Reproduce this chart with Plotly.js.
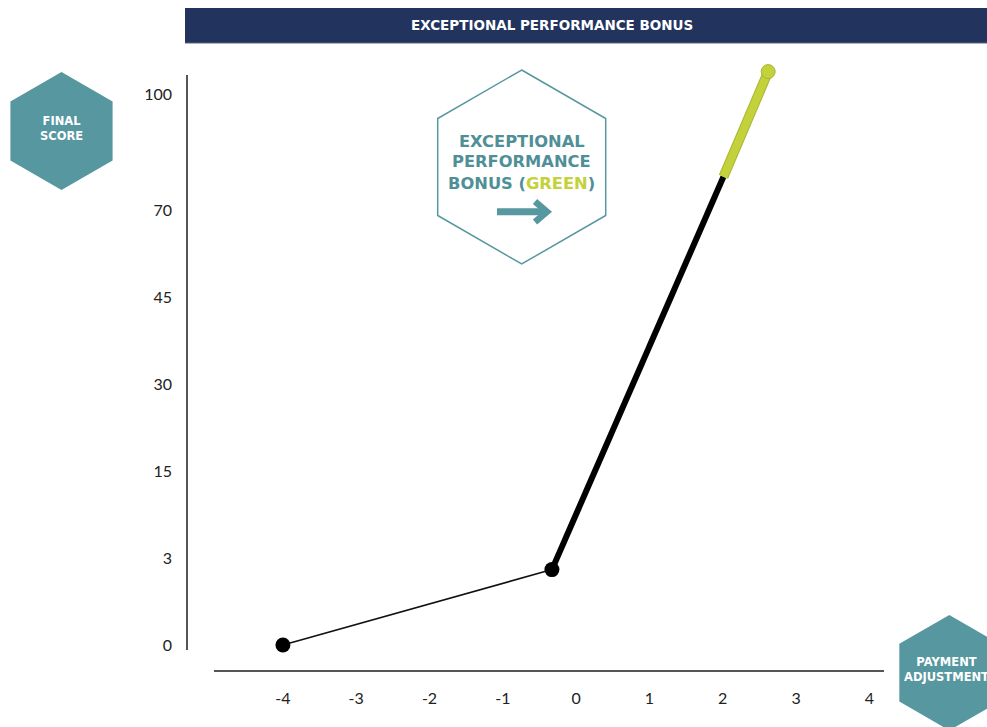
<!DOCTYPE html>
<html>
<head>
<meta charset="utf-8">
<script src="https://cdn.plot.ly/plotly-3.0.1.min.js"></script>
<style>html,body{margin:0;padding:0;background:#fff;}#chart{width:987px;height:727px;}</style>
</head>
<body>
<div id="chart"></div>
<script>
// ---- data ----
const xTickVals = [-4, -3, -2, -1, 0, 1, 2, 3, 4];
const yTickScores = [0, 3, 15, 30, 45, 70, 100];
const yTickLabels = ['0', '3', '15', '30', '45', '70', '100'];
const yTickSlots = [0, 1, 2, 3, 4, 5, 6.333];   // non-linear axis scale (even spacing, wider top step)

const baseX = [-4, -0.33];
const baseY = [0, 2.6];
const coreX = [-0.33, 2.01];
const coreY = [2.6, 78.6];
const bonusX = [2.01, 2.62];
const bonusY = [78.6, 105.8];

// piecewise-linear score -> axis-slot scale
function yScale(v) {
  const s = yTickScores, p = yTickSlots;
  let i = 0;
  while (i < s.length - 2 && v > s[i + 1]) i++;
  return p[i] + (v - s[i]) / (s[i + 1] - s[i]) * (p[i + 1] - p[i]);
}
const mapY = arr => arr.map(yScale);

// ---- layout geometry (pixels) ----
const W = 987, H = 727;
const M = {l: 187, r: 103, t: 50, b: 56};
const PW = W - M.l - M.r, PH = H - M.t - M.b;
const X = px => (px - M.l) / PW;
const Y = py => (H - M.b - py) / PH;

const TEAL = '#57979f';
const TEAL_TXT = '#4f8f97';
const GREEN = '#c3d13b';
const NAVY = '#22335e';
const FONT = 'Lato, "Open Sans", sans-serif';
const BOLD = '"DejaVu Sans", Lato, sans-serif';

function hexPath(cx, cy, R) {
  const pts = [];
  for (let k = 0; k < 6; k++) {
    const a = (-90 + 60 * k) * Math.PI / 180;
    pts.push([cx + R * Math.cos(a), cy + R * Math.sin(a)]);
  }
  return 'M' + pts.map(p => X(p[0]).toFixed(5) + ',' + Y(p[1]).toFixed(5)).join(' L') + ' Z';
}
function pPath(list) {
  return 'M' + list.map(p => X(p[0]).toFixed(5) + ',' + Y(p[1]).toFixed(5)).join(' L');
}

const traces = [
  {x: baseX, y: mapY(baseY), mode: 'lines', line: {color: '#111', width: 1.6}, hoverinfo: 'skip'},
  {x: coreX, y: mapY(coreY), mode: 'lines', line: {color: '#000', width: 6}, hoverinfo: 'skip'},
  {x: bonusX, y: mapY(bonusY), mode: 'lines', line: {color: '#a9b533', width: 10}, hoverinfo: 'skip'},
  {x: bonusX, y: mapY(bonusY), mode: 'lines', line: {color: GREEN, width: 8}, hoverinfo: 'skip'},
  {x: [bonusX[1]], y: mapY([bonusY[1]]), mode: 'markers', marker: {color: GREEN, size: 14, line: {color: '#a9b533', width: 1}}, hoverinfo: 'skip'},
  {x: [baseX[0], baseX[1]], y: mapY(baseY), mode: 'markers', marker: {color: '#000', size: 15}, hoverinfo: 'skip'}
];

const shapes = [
  // header banner
  {type: 'rect', xref: 'paper', yref: 'paper', x0: X(185), x1: X(990), y0: Y(8), y1: Y(43), fillcolor: NAVY, line: {width: 0}},
  {type: 'line', xref: 'paper', yref: 'paper', x0: X(185), x1: X(990), y0: Y(43), y1: Y(43), line: {color: '#5b6583', width: 1}},
  // axis lines
  {type: 'line', xref: 'paper', yref: 'paper', x0: X(187), x1: X(187), y0: Y(75), y1: Y(650), line: {color: '#555', width: 2}},
  {type: 'line', xref: 'paper', yref: 'paper', x0: X(214), x1: X(884), y0: Y(671), y1: Y(671), line: {color: '#555', width: 2}},
  // hexagons
  {type: 'path', xref: 'paper', yref: 'paper', path: hexPath(61.5, 131, 59), fillcolor: TEAL, line: {width: 0}},
  {type: 'path', xref: 'paper', yref: 'paper', path: hexPath(949.3, 672.7, 57.7), fillcolor: TEAL, line: {width: 0}},
  {type: 'path', xref: 'paper', yref: 'paper', path: hexPath(521.7, 167, 97), fillcolor: '#ffffff', line: {color: TEAL, width: 1.5}},
  // arrow
  {type: 'path', xref: 'paper', yref: 'paper', path: pPath([[497, 211.7], [545, 211.7]]), line: {color: TEAL, width: 7}},
  {type: 'path', xref: 'paper', yref: 'paper', path: pPath([[535, 201.5], [547, 211.7], [535, 222]]), line: {color: TEAL, width: 6.5}}
];

const ann = (px, py, text, size, color, extra) => Object.assign({
  xref: 'paper', yref: 'paper', x: X(px), y: Y(py), text: text, showarrow: false,
  xanchor: 'center', yanchor: 'middle', font: {family: BOLD, size: size, color: color, weight: 700}
}, extra || {});

const annotations = [
  ann(552, 25, 'EXCEPTIONAL PERFORMANCE BONUS', 13.5, '#ffffff'),
  ann(61.5, 128, 'FINAL<br>SCORE', 11.5, '#ffffff'),
  ann(946, 669, 'PAYMENT<br>ADJUSTMENT', 11.5, '#ffffff'),
  ann(521.7, 141.7, 'EXCEPTIONAL', 16.3, TEAL_TXT),
  ann(521.7, 161.7, 'PERFORMANCE', 16.3, TEAL_TXT),
  ann(521.7, 184, 'BONUS (<span style="color:' + GREEN + '">GREEN</span>)', 16.3, TEAL_TXT)
];

const layout = {
  width: W, height: H,
  margin: M,
  paper_bgcolor: '#ffffff', plot_bgcolor: '#ffffff',
  showlegend: false,
  font: {family: FONT, color: '#222'},
  xaxis: {
    domain: [X(214), 1],
    range: [-4.94, 4.20],
    tickmode: 'array', tickvals: xTickVals, ticktext: xTickVals.map(String),
    showgrid: false, zeroline: false, showline: false, ticks: '',
    ticklabelstandoff: 16,
    tickfont: {family: FONT, size: 16, color: '#222'},
    fixedrange: true
  },
  yaxis: {
    anchor: 'free', position: 0,
    range: [-0.299, 6.839],
    tickmode: 'array', tickvals: yTickScores.map(yScale), ticktext: yTickLabels,
    showgrid: false, zeroline: false, showline: false, ticks: '',
    ticklabelstandoff: 15,
    tickfont: {family: FONT, size: 16, color: '#222'},
    fixedrange: true
  },
  shapes: shapes,
  annotations: annotations
};

Plotly.newPlot('chart', traces, layout, {displayModeBar: false, staticPlot: true});
</script>
</body>
</html>
